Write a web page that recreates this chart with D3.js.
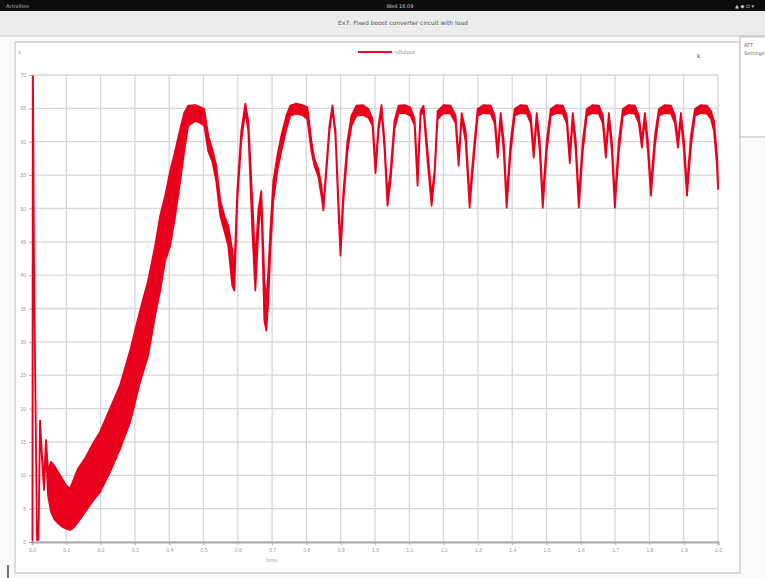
<!DOCTYPE html>
<html>
<head>
<meta charset="utf-8">
<script src="https://cdn.jsdelivr.net/npm/d3@7"></script>
<style>
body { margin: 0; background: #fafafa; font-family: "DejaVu Sans", sans-serif; }
</style>
</head>
<body>
<svg width="765" height="578"></svg>
<script>
// simulation output: time and the upper / lower edge of the ripple band
var time = [
	0.0015, 0.0029, 0.0058, 0.0102, 0.0146, 0.0190, 0.0234, 0.0292, 0.0350, 0.0409,
	0.0467, 0.0555, 0.0642, 0.0759, 0.0876, 0.0993, 0.1109, 0.1226, 0.1343, 0.1547,
	0.1752, 0.1985, 0.2277, 0.2569, 0.2861, 0.3153, 0.3387, 0.3591, 0.3737, 0.3883,
	0.4029, 0.4175, 0.4321, 0.4438, 0.4555, 0.4759, 0.4905, 0.5022, 0.5139, 0.5255,
	0.5372, 0.5489, 0.5606, 0.5723, 0.5839, 0.5898, 0.5985, 0.6102, 0.6219, 0.6307,
	0.6423, 0.6511, 0.6599, 0.6686, 0.6774, 0.6832, 0.6891, 0.6949, 0.7036, 0.7153,
	0.7270, 0.7416, 0.7533, 0.7708, 0.7883, 0.8029, 0.8146, 0.8234, 0.8350, 0.8438,
	0.8496, 0.8584, 0.8672, 0.8759, 0.8847, 0.8934, 0.8993, 0.9080, 0.9197, 0.9314,
	0.9460, 0.9635, 0.9810, 0.9927, 1.0015, 1.0102, 1.0190, 1.0277, 1.0365, 1.0453,
	1.0569, 1.0686, 1.0861, 1.1036, 1.1153, 1.1241, 1.1328, 1.1416, 1.1533, 1.1650,
	1.1737, 1.1825, 1.2000, 1.2204,
	1.2350, 1.2438, 1.2526, 1.2642, 1.2759, 1.2876, 1.2993, 1.3168, 1.3372, 1.3489,
	1.3577, 1.3664, 1.3752, 1.3839, 1.3956, 1.4073, 1.4248, 1.4423, 1.4540, 1.4628,
	1.4715, 1.4803, 1.4891, 1.5007, 1.5124, 1.5299, 1.5474, 1.5591, 1.5679, 1.5766,
	1.5854, 1.5942, 1.6058, 1.6175, 1.6350, 1.6526, 1.6642, 1.6730, 1.6818, 1.6905,
	1.6993, 1.7109, 1.7226, 1.7401, 1.7577, 1.7693, 1.7781, 1.7869, 1.7956, 1.8044,
	1.8161, 1.8277, 1.8453, 1.8628, 1.8745, 1.8832, 1.8920, 1.9007, 1.9095, 1.9212,
	1.9328, 1.9504, 1.9679, 1.9796, 1.9883, 1.9971, 2.0000
];

var vHigh = [
	0.3, 69.8, 42.2, 21.2, 0.7, 0.3, 18.2, 13.0, 9.3, 15.3,
	10.8, 12.0, 11.5, 10.5, 9.5, 8.5, 8.0, 9.5, 11.0, 12.5,
	14.5, 16.5, 20.0, 23.5, 28.7, 34.7, 39.2, 44.4, 48.9, 51.9,
	55.6, 58.6, 61.9, 64.3, 65.4, 65.5, 65.2, 64.9, 60.9, 58.9,
	56.4, 51.2, 48.9, 47.4, 43.7, 40.7, 52.6, 61.6, 65.7, 63.1,
	51.2, 42.2, 49.7, 52.6, 39.2, 36.2, 40.7, 46.7, 54.1, 57.9,
	60.9, 63.9, 65.4, 65.7, 65.5, 65.2, 60.1, 57.4, 55.9, 53.4,
	50.4, 56.4, 62.4, 65.4, 61.6, 51.2, 44.4, 52.6, 60.1, 63.9,
	65.4, 65.5, 64.9, 63.4, 56.4, 62.4, 65.5, 60.1, 51.9, 55.6,
	63.1, 65.4, 65.5, 65.1, 63.4, 54.9, 64.6, 65.4, 58.6, 51.9,
	55.6, 64.6, 65.5, 65.4,
	63.9, 57.4, 64.3, 61.6, 51.5, 58.6, 64.9, 65.5, 65.4, 63.9,
	58.6, 64.3, 60.1, 51.5, 60.1, 64.9, 65.5, 65.4, 63.9, 58.6,
	64.3, 60.1, 51.5, 60.1, 64.9, 65.5, 65.4, 63.9, 57.9, 64.3,
	60.1, 51.5, 60.1, 64.9, 65.5, 65.4, 63.9, 58.6, 64.3, 60.1,
	51.5, 60.1, 64.9, 65.5, 65.4, 63.9, 60.1, 64.3, 60.1, 53.4,
	60.9, 64.9, 65.5, 65.4, 63.9, 60.1, 64.3, 60.1, 53.4, 60.9,
	64.9, 65.5, 65.4, 64.6, 63.1, 57.9, 54.1
];

var vLow = [
	0.3, 69.8, 41.9, 20.9, 0.3, 0.3, 17.5, 12.3, 7.8, 13.8,
	7.0, 4.5, 3.5, 2.8, 2.3, 2.0, 1.8, 2.2, 3.0, 4.5,
	6.0, 7.5, 10.5, 14.0, 18.0, 24.0, 28.0, 34.0, 37.7, 42.2,
	44.4, 48.9, 54.1, 58.6, 62.4, 63.1, 62.8, 62.4, 58.6, 57.1,
	54.1, 48.9, 46.7, 44.4, 38.4, 37.7, 51.2, 60.1, 64.6, 61.6,
	46.7, 37.7, 46.7, 51.2, 33.2, 31.7, 36.2, 43.7, 51.2, 55.6,
	58.6, 61.9, 63.9, 64.2, 64.0, 63.4, 58.6, 56.4, 54.7, 51.9,
	49.7, 55.6, 61.6, 64.9, 60.9, 49.7, 42.9, 51.2, 58.6, 62.4,
	63.9, 64.0, 63.6, 62.4, 55.3, 61.6, 64.6, 58.9, 50.4, 54.1,
	61.9, 64.3, 64.3, 63.9, 62.5, 53.4, 63.9, 64.6, 57.1, 50.4,
	54.9, 63.4, 64.3, 64.2,
	62.8, 56.4, 63.4, 60.1, 50.1, 57.4, 63.9, 64.3, 64.2, 62.8,
	57.6, 63.4, 58.6, 50.1, 58.6, 63.9, 64.3, 64.2, 62.8, 57.6,
	63.4, 58.6, 50.1, 58.6, 63.9, 64.3, 64.2, 62.8, 56.8, 63.4,
	58.6, 50.1, 58.6, 63.9, 64.3, 64.2, 62.8, 57.6, 63.4, 58.6,
	50.1, 58.6, 63.9, 64.3, 64.2, 62.8, 59.1, 63.4, 58.6, 51.9,
	59.4, 63.9, 64.3, 64.2, 62.8, 59.1, 63.4, 58.6, 51.9, 59.4,
	63.9, 64.3, 64.2, 63.4, 61.6, 56.4, 52.9
];

var xTicks = [0.0, 0.1, 0.2, 0.3, 0.4, 0.5, 0.6, 0.7, 0.8, 0.9, 1.0,
	1.1, 1.2, 1.3, 1.4, 1.5, 1.6, 1.7, 1.8, 1.9, 2.0];
var yTicks = [0, 5, 10, 15, 20, 25, 30, 35, 40, 45, 50, 55, 60, 65, 70];

var data = time.map(function(t, i) {
	return { t: t, hi: vHigh[i], lo: vLow[i] };
});

var svg = d3.select("svg");

// desktop top bar
svg.append("rect").attr("x", 0).attr("y", 0).attr("width", 765).attr("height", 11).attr("fill", "#0c0c0c");
svg.append("text").attr("x", 6).attr("y", 8).attr("font-size", 5).attr("fill", "#bbb").text("Activities");
svg.append("text").attr("x", 400).attr("y", 8).attr("font-size", 5).attr("fill", "#ccc")
	.attr("text-anchor", "middle").text("Wed 16:09");
svg.append("text").attr("x", 735).attr("y", 8).attr("font-size", 5).attr("fill", "#ccc").text("▲ ◆ ⏻ ▾");

// window title bar
svg.append("rect").attr("x", 0).attr("y", 11).attr("width", 765).attr("height", 25).attr("fill", "#ececec");
svg.append("line").attr("x1", 0).attr("x2", 765).attr("y1", 36).attr("y2", 36).attr("stroke", "#c8c8c8");
svg.append("text").attr("x", 403).attr("y", 25).attr("font-size", 6).attr("fill", "#555")
	.attr("text-anchor", "middle").text("Ex7: Fixed boost converter circuit with load");

// plot frame
svg.append("rect").attr("x", 15).attr("y", 42).attr("width", 725).attr("height", 531)
	.attr("fill", "#fff").attr("stroke", "#d0d0d0").attr("stroke-width", 1.5);

// side panel
svg.append("rect").attr("x", 740).attr("y", 37).attr("width", 30).attr("height", 100)
	.attr("fill", "#fff").attr("stroke", "#bbb");
svg.append("text").attr("x", 744).attr("y", 47).attr("font-size", 5).attr("fill", "#666").text("ATT");
svg.append("text").attr("x", 744).attr("y", 55).attr("font-size", 5).attr("fill", "#666").text("Settings");

var x = d3.scaleLinear().domain([0, 2]).range([32, 718]);
var y = d3.scaleLinear().domain([0, 70]).range([542, 75]);

// grid
svg.append("g").selectAll("line").data(xTicks).enter().append("line")
	.attr("x1", d => x(d)).attr("x2", d => x(d)).attr("y1", 75).attr("y2", 542)
	.attr("stroke", "#d6d6d6").attr("stroke-width", 1.3);
svg.append("g").selectAll("line").data(yTicks).enter().append("line")
	.attr("x1", 32).attr("x2", 718).attr("y1", d => y(d)).attr("y2", d => y(d))
	.attr("stroke", "#d6d6d6").attr("stroke-width", 1.3);

var xAxis = svg.append("g")
	.attr("transform", "translate(0,542)")
	.call(d3.axisBottom(x).tickValues(xTicks).tickFormat(d3.format(".1f")).tickSize(3));
var yAxis = svg.append("g")
	.attr("transform", "translate(32,0)")
	.call(d3.axisLeft(y).tickValues(yTicks).tickSize(3));

xAxis.select(".domain").attr("stroke", "#aaa").attr("stroke-width", 2);
yAxis.select(".domain").attr("stroke", "#999").attr("stroke-width", 1.2);
svg.selectAll(".tick line").attr("stroke", "#aaa");
svg.selectAll(".tick text").attr("fill", "#999").attr("font-size", 5);

svg.append("text").attr("x", 272).attr("y", 562).attr("font-size", 5).attr("fill", "#999")
	.attr("text-anchor", "middle").text("time");
svg.append("text").attr("x", 18).attr("y", 54).attr("font-size", 5).attr("fill", "#888").text("x");

// legend
svg.append("line").attr("x1", 358).attr("x2", 392).attr("y1", 52).attr("y2", 52)
	.attr("stroke", "#e8102a").attr("stroke-width", 2);
svg.append("text").attr("x", 395).attr("y", 54).attr("font-size", 5).attr("fill", "#888").text("vOutput");
svg.append("text").attr("x", 697).attr("y", 58).attr("font-size", 6).attr("fill", "#333").text("k");

// signal band
var band = d3.area()
	.x(d => x(d.t))
	.y0(d => y(d.lo))
	.y1(d => y(d.hi));

svg.append("path")
	.datum(data)
	.attr("d", band)
	.attr("fill", "#e8001c")
	.attr("stroke", "#e8001c")
	.attr("stroke-width", 1.8)
	.attr("stroke-linejoin", "round");

// cursor mark at bottom left
svg.append("line").attr("x1", 8).attr("x2", 8).attr("y1", 565).attr("y2", 578)
	.attr("stroke", "#444").attr("stroke-width", 1.5);
</script>
</body>
</html>
